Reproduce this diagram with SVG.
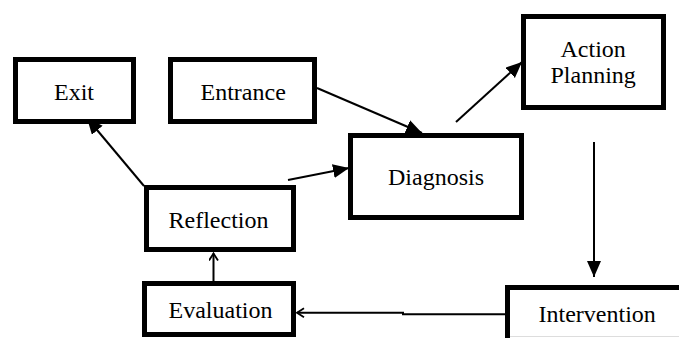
<svg xmlns="http://www.w3.org/2000/svg" width="679" height="338" viewBox="0 0 679 338">
<style>
.box{fill:#fff;stroke:#000;stroke-width:5}
.ln{fill:none;stroke:#000;stroke-width:2}
</style>
<defs>
<marker id="fa" markerUnits="userSpaceOnUse" markerWidth="18" markerHeight="16" refX="16" refY="7" orient="auto">
<path d="M0,0 L16,7 L0,14 z" fill="#000"/>
</marker>
<marker id="oa" markerUnits="userSpaceOnUse" markerWidth="12" markerHeight="12" refX="8" refY="5" orient="auto">
<path d="M1,0.5 L8,5 L1,9.5" fill="none" stroke="#000" stroke-width="1.8"/>
</marker>
</defs>
<rect width="679" height="338" fill="#fff"/>
<g id="connectors">
<line class="ln" x1="144" y1="186" x2="87" y2="118" marker-end="url(#fa)"/>
<line class="ln" x1="317" y1="88" x2="422" y2="133" marker-end="url(#fa)"/>
<line class="ln" x1="456" y1="122" x2="522" y2="62" marker-end="url(#fa)"/>
<line class="ln" x1="288" y1="180" x2="349" y2="168" marker-end="url(#fa)"/>
<line class="ln" x1="594" y1="142" x2="594" y2="277" marker-end="url(#fa)"/>
<path class="ln" d="M510,314.3 H403 V312.7 H297" marker-end="url(#oa)"/>
<line class="ln" x1="213.5" y1="287" x2="213.5" y2="253.5" marker-end="url(#oa)"/>
</g>
<g id="exit">
<rect class="box" x="15.5" y="59.5" width="118" height="62"/>
<text x="54" y="100" font-family="Liberation Serif" font-size="24">Exit</text>
</g>
<g id="entrance">
<rect class="box" x="170.5" y="59.5" width="144" height="62"/>
<text x="200.5" y="100" font-family="Liberation Serif" font-size="24">Entrance</text>
</g>
<g id="diagnosis">
<rect class="box" x="350.5" y="135.5" width="171" height="82"/>
<text x="388" y="185" font-family="Liberation Serif" font-size="24">Diagnosis</text>
</g>
<g id="action-planning">
<rect class="box" x="523.5" y="16.5" width="140" height="91"/>
<text x="560.5" y="57" font-family="Liberation Serif" font-size="24">Action</text>
<text x="550.5" y="83" font-family="Liberation Serif" font-size="24">Planning</text>
</g>
<g id="reflection">
<rect class="box" x="146.5" y="187.5" width="147" height="62"/>
<text x="168.5" y="228" font-family="Liberation Serif" font-size="24">Reflection</text>
</g>
<g id="evaluation">
<rect class="box" x="144.5" y="283.5" width="149" height="51"/>
<text x="168.5" y="318" font-family="Liberation Serif" font-size="24">Evaluation</text>
</g>
<g id="intervention">
<line x1="508" y1="336.5" x2="679" y2="336.5" stroke="#ddd" stroke-width="1"/>
<path d="M507.5,340 V287.5 H682" fill="none" stroke="#000" stroke-width="5"/>
<text x="538.5" y="322" font-family="Liberation Serif" font-size="24">Intervention</text>
</g>
</svg>
